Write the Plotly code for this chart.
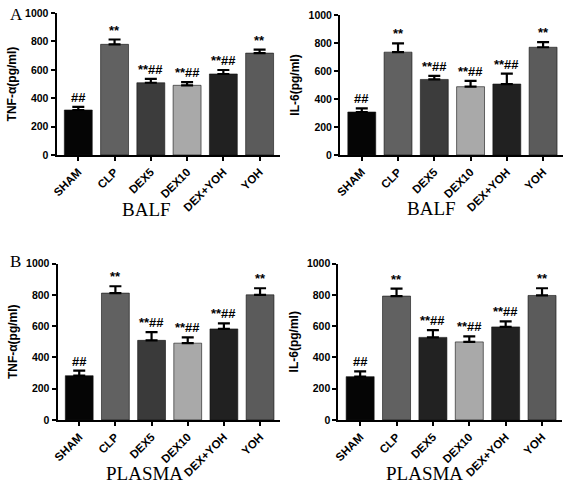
import plotly.graph_objects as go

categories = ["SHAM", "CLP", "DEX5", "DEX10", "DEX+YOH", "YOH"]
sig_labels = ["##", "**", "**##", "**##", "**##", "**"]
y_ticks = [0, 200, 400, 600, 800, 1000]

tnf_balf = [317, 780, 509, 491, 571, 718]
tnf_balf_sem = [22, 34, 28, 23, 28, 25]
il6_balf = [307, 735, 540, 488, 507, 770]
il6_balf_sem = [26, 63, 25, 42, 74, 37]
tnf_plasma = [283, 811, 509, 491, 582, 800]
tnf_plasma_sem = [33, 44, 52, 37, 35, 42]
il6_plasma = [277, 792, 528, 499, 595, 796]
il6_plasma_sem = [33, 48, 46, 35, 35, 46]

colors_a = ["#050505", "#616161", "#3c3c3c", "#a9a9a9", "#212121", "#5b5b5b"]
colors_b = ["#050505", "#616161", "#3a3a3a", "#a9a9a9", "#212121", "#5b5b5b"]
colors_b2 = ["#050505", "#616161", "#222222", "#a9a9a9", "#212121", "#5b5b5b"]

W, H = 567, 492
panels = [
    dict(vals=tnf_balf, sem=tnf_balf_sem, colors=colors_a, ytitle="TNF-α(pg/ml)",
         xd=(52, 277), yd=(152.7, 7.3), xtitle="BALF", tpos=(143, 209)),
    dict(vals=il6_balf, sem=il6_balf_sem, colors=colors_a, ytitle="IL-6(pg/ml)",
         xd=(338, 563), yd=(152.7, 9.3), xtitle="BALF", tpos=(430, 208)),
    dict(vals=tnf_plasma, sem=tnf_plasma_sem, colors=colors_b, ytitle="TNF-α(pg/ml)",
         xd=(53, 277.4), yd=(424.3, 264), xtitle="PLASMA", tpos=(141, 479)),
    dict(vals=il6_plasma, sem=il6_plasma_sem, colors=colors_b2, ytitle="IL-6(pg/ml)",
         xd=(336.3, 562), yd=(424.3, 264), xtitle="PLASMA", tpos=(423, 479)),
]

fig = go.Figure()
layout = dict(width=W, height=H, margin=dict(l=0, r=0, t=0, b=0),
              paper_bgcolor="white", plot_bgcolor="white", showlegend=False)
annotations = []
ytickfont = dict(family="Liberation Sans", size=10.5, color="black")
xtickfont = dict(family="Liberation Sans", size=11.5, color="black")
xs = list(range(len(categories)))

for i, p in enumerate(panels):
    n = "" if i == 0 else str(i + 1)
    fig.add_trace(go.Bar(
        x=xs, y=p["vals"], xaxis="x" + n, yaxis="y" + n,
        marker=dict(color=p["colors"], line=dict(color="#111111", width=0.6)),
        width=0.77, hoverinfo="skip",
        error_y=dict(type="data", array=p["sem"], arrayminus=[0] * 6,
                     symmetric=False, color="black", thickness=2.2, width=6),
    ))
    layout["xaxis" + n] = dict(
        domain=[p["xd"][0] / W, p["xd"][1] / W], anchor="y" + n,
        range=[-0.6, 5.55], tickmode="array", tickvals=xs,
        ticktext=["<b>%s</b>" % c for c in categories],
        tickangle=-45, tickfont=xtickfont, showline=True, linecolor="black",
        linewidth=2, ticks="outside", ticklen=4, tickwidth=1.5, tickcolor="black",
        showgrid=False, zeroline=False, fixedrange=True)
    layout["yaxis" + n] = dict(
        domain=[1 - p["yd"][0] / H, 1 - p["yd"][1] / H], anchor="x" + n,
        range=[0, 1000], tickmode="array", tickvals=y_ticks,
        ticktext=["<b>%d</b>" % t for t in y_ticks],
        tickfont=ytickfont, showline=True, linecolor="black", linewidth=2,
        ticks="outside", ticklen=4, tickwidth=1.5, tickcolor="black",
        showgrid=False, zeroline=False, fixedrange=True,
        title=dict(text="<b>%s</b>" % p["ytitle"], standoff=6,
                   font=dict(family="Liberation Sans", size=12, color="black")))
    for j, lab in enumerate(sig_labels):
        annotations.append(dict(
            x=xs[j], y=p["vals"][j] + p["sem"][j], xref="x" + n, yref="y" + n,
            text="<b>%s</b>" % lab, showarrow=False, yanchor="bottom", yshift=0,
            font=dict(family="Liberation Sans", size=13, color="black")))
    annotations.append(dict(
        x=p["tpos"][0] / W, y=1 - p["tpos"][1] / H, xref="paper", yref="paper",
        text=p["xtitle"], showarrow=False, xanchor="center", yanchor="middle",
        font=dict(family="Liberation Serif", size=19, color="black")))

annotations.append(dict(x=3 / W, y=1 - 9 / H, xref="paper", yref="paper", text="A",
                        xanchor="left", yanchor="middle",
                        showarrow=False, font=dict(family="Liberation Serif", size=17, color="black")))
annotations.append(dict(x=3 / W, y=1 - 262 / H, xref="paper", yref="paper", text="B",
                        xanchor="left", yanchor="middle",
                        showarrow=False, font=dict(family="Liberation Serif", size=17, color="black")))
layout["annotations"] = annotations
fig.update_layout(**layout)
fig.write_html("out.html", config={"displayModeBar": False},
               post_script="document.body.style.margin='0';")
